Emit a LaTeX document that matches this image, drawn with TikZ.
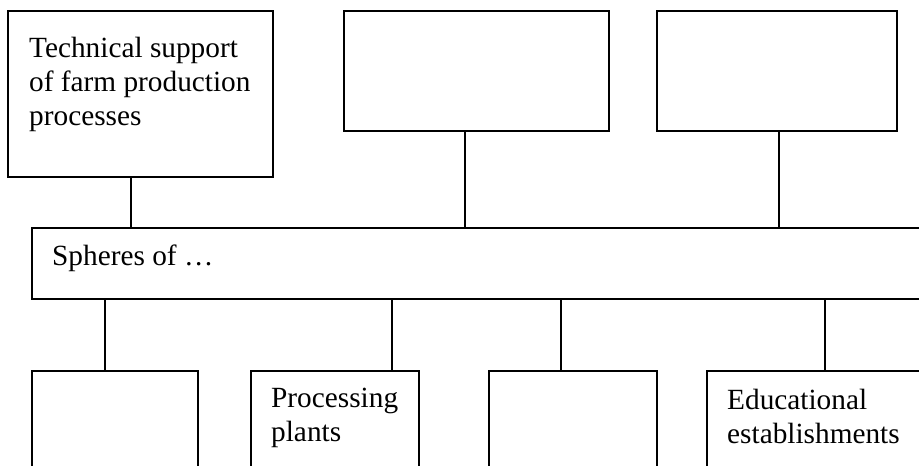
\documentclass[tikz,border=0pt]{standalone}
\usepackage{fontspec}
\setmainfont{Liberation Serif}
\begin{document}
\begin{tikzpicture}[x=1pt,y=-1pt,
  box/.style={draw, line width=1.6pt, rectangle, inner sep=0pt, outer sep=0pt, anchor=north west},
  lbl/.style={anchor=base west, inner sep=0pt, align=left, font=\fontsize{29.3}{34}\selectfont},
  link/.style={draw, line width=1.6pt}]
\useasboundingbox (0,0) rectangle (919,466);
\clip (0,0) rectangle (919,466);
% top row
\node[box, minimum width=265pt, minimum height=166pt] (a) at (8,11) {};
\node[box, minimum width=265pt, minimum height=120pt] (b) at (344,11) {};
\node[box, minimum width=240pt, minimum height=120pt] (c) at (657,11) {};
% spheres bar
\node[box, minimum width=928pt, minimum height=71pt] (s) at (32,228) {};
% bottom row
\node[box, minimum width=166pt, minimum height=150pt] (d1) at (32,371) {};
\node[box, minimum width=168pt, minimum height=150pt] (d2) at (251,371) {};
\node[box, minimum width=168pt, minimum height=150pt] (d3) at (489,371) {};
\node[box, minimum width=253pt, minimum height=150pt] (d4) at (707,371) {};
% texts (anchor = baseline of the last line)
\node[lbl] (ta) at ([shift={(21,114)}]a.north west) {Technical support\\of farm production\\processes};
\node[lbl] (ts) at ([shift={(20,37)}]s.north west) {Spheres of …};
\node[lbl] (tp) at ([shift={(20,70)}]d2.north west) {Processing\\plants};
\node[lbl] (te) at ([shift={(20,72)}]d4.north west) {Educational\\establishments};
% connectors
\draw[link] ([xshift=-9.5pt]a.south) -- ([xshift=-9.5pt]a.south |- s.north);
\draw[link] ([xshift=-11.5pt]b.south) -- ([xshift=-11.5pt]b.south |- s.north);
\draw[link] ([xshift=2pt]c.south) -- ([xshift=2pt]c.south |- s.north);
\draw[link] ([xshift=-10pt]d1.north) -- ([xshift=-10pt]d1.north |- s.south);
\draw[link] ([xshift=57pt]d2.north) -- ([xshift=57pt]d2.north |- s.south);
\draw[link] ([xshift=-12pt]d3.north) -- ([xshift=-12pt]d3.north |- s.south);
\draw[link] ([xshift=118pt]d4.north west) -- ([xshift=118pt]d4.north west |- s.south);
\end{tikzpicture}
\end{document}
